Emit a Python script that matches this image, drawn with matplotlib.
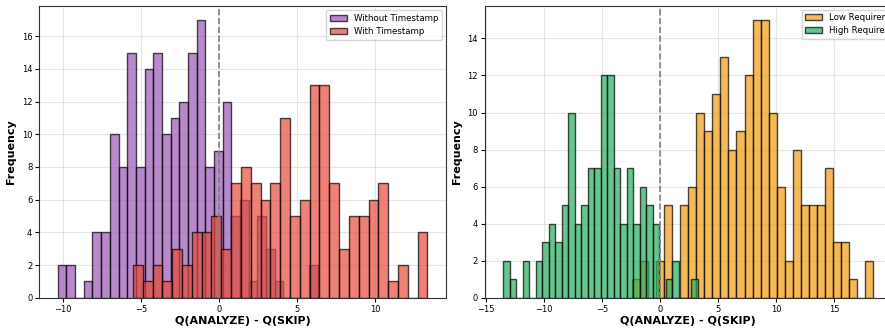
import numpy as np
import matplotlib
matplotlib.use('Agg')
import matplotlib.pyplot as plt

# left panel: timestamp vs no timestamp (counts per bin, 30 bins)
no_ts_range = (-10.32, 6.35)
no_ts_counts = [2, 2, 0, 1, 4, 4, 10, 8, 15, 8, 14, 15, 10, 11, 12,
                15, 17, 8, 9, 12, 5, 6, 1, 5, 3, 1, 0, 0, 0, 2]
ts_range = (-5.51, 13.36)
ts_counts = [2, 1, 2, 1, 3, 2, 4, 4, 5, 3, 7, 8, 7, 6, 7,
             11, 5, 6, 13, 13, 7, 3, 5, 5, 6, 7, 1, 2, 0, 4]

# right panel: low vs high requirement
low_range = (-2.42, 18.34)
low_counts = [1, 2, 0, 2, 5, 0, 5, 6, 10, 9, 11, 13, 8, 9, 12,
              15, 15, 10, 6, 2, 8, 5, 5, 5, 7, 3, 3, 1, 0, 2]
high_range = (-13.48, 3.26)
high_counts = [2, 1, 0, 2, 0, 2, 3, 4, 3, 5, 10, 4, 5, 7, 7,
               12, 12, 7, 4, 7, 4, 6, 5, 4, 0, 1, 2, 0, 0, 1]

labels_left = ['Without Timestamp', 'With Timestamp']
labels_right = ['Low Requirement', 'High Requirement']
colors_left = ['#9b59b6', '#e74c3c']
colors_right = ['#f39c12', '#27ae60']


def draw_hist(ax, rng, counts, color, label):
    edges = np.linspace(rng[0], rng[1], len(counts) + 1)
    centers = (edges[:-1] + edges[1:]) / 2
    ax.hist(centers, bins=edges, weights=counts, color=color, alpha=0.7,
            edgecolor='black', linewidth=1.0, label=label)


fig = plt.figure(figsize=(8.85, 3.29), dpi=100)
ax1 = fig.add_axes([0.0444, 0.0951, 0.4595, 0.8866])
ax2 = fig.add_axes([0.548, 0.0951, 0.4595, 0.8866])

draw_hist(ax1, no_ts_range, no_ts_counts, colors_left[0], labels_left[0])
draw_hist(ax1, ts_range, ts_counts, colors_left[1], labels_left[1])
draw_hist(ax2, low_range, low_counts, colors_right[0], labels_right[0])
draw_hist(ax2, high_range, high_counts, colors_right[1], labels_right[1])

for ax in (ax1, ax2):
    ax.axvline(0, color='gray', linestyle='--', linewidth=1.2)
    ax.set_xlabel('Q(ANALYZE) - Q(SKIP)', fontsize=8, fontweight='bold',
                  labelpad=2)
    ax.set_ylabel('Frequency', fontsize=8, fontweight='bold')
    ax.grid(True, alpha=0.3)
    ax.set_axisbelow(True)
    ax.tick_params(labelsize=6, length=3, pad=2)
    for sp in ax.spines.values():
        sp.set_color('#333333')

ax1.legend(loc='upper right', fontsize=6.2)
# the original figure ran past the right edge, so this legend is clipped
ax2.legend(loc='upper left', fontsize=6.2, borderaxespad=0,
           bbox_to_anchor=(801.7 / 885, 1 - 9.5 / 329),
           bbox_transform=fig.transFigure)

fig.savefig('out.png', dpi=100)
